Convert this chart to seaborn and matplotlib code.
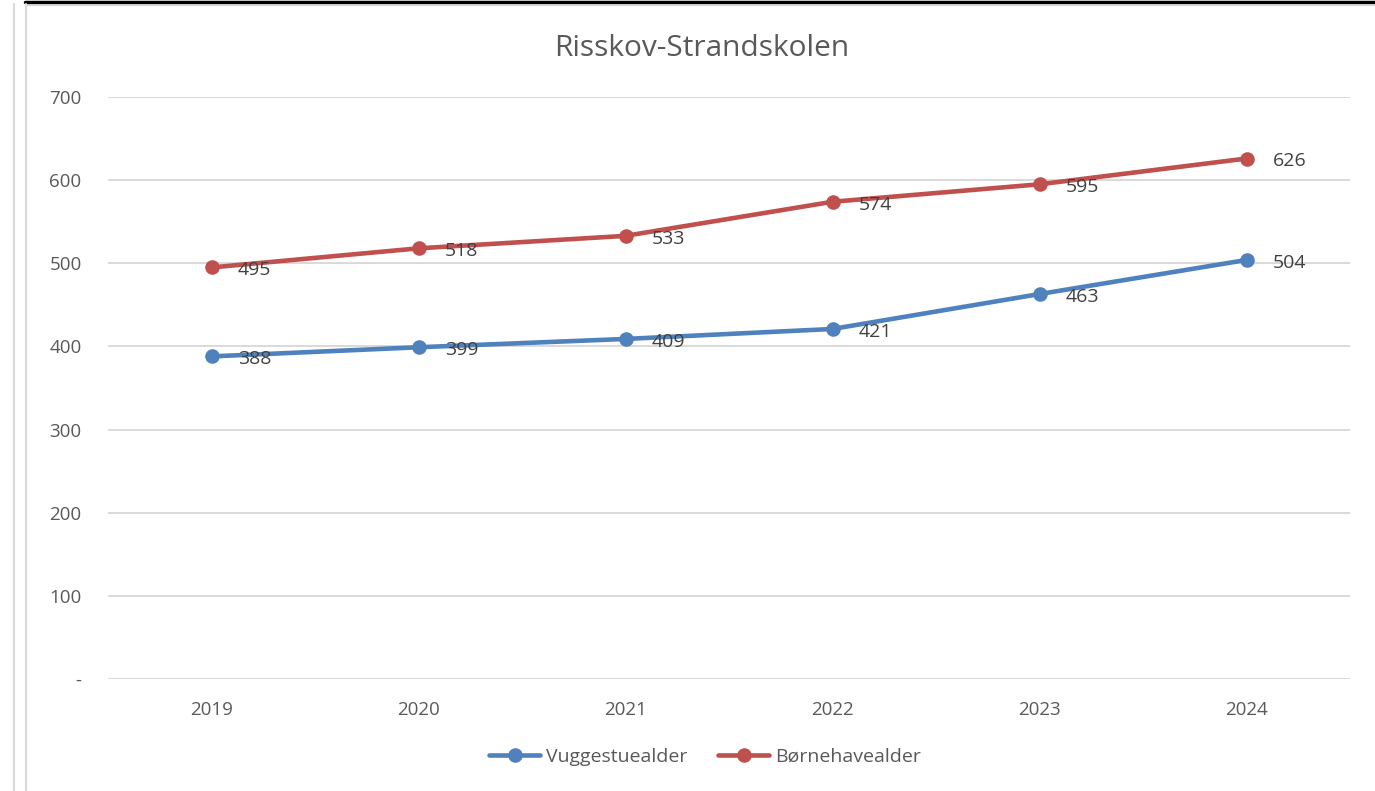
import matplotlib
matplotlib.use("Agg")
import matplotlib.pyplot as plt
from matplotlib.lines import Line2D
import pandas as pd
import seaborn as sns

# data
years = ["2019", "2020", "2021", "2022", "2023", "2024"]
vuggestue = [388, 399, 409, 421, 463, 504]
boernehave = [495, 518, 533, 574, 595, 626]
series_names = ["Vuggestuealder", "Børnehavealder"]
y_ticks = [0, 100, 200, 300, 400, 500, 600, 700]
y_tick_labels = ["-", "100", "200", "300", "400", "500", "600", "700"]

colors = {"Vuggestuealder": "#4F81BD", "Børnehavealder": "#C0504D"}
text_color = "#595959"

df = pd.DataFrame({
    "year": years * 2,
    "value": vuggestue + boernehave,
    "series": [series_names[0]] * len(years) + [series_names[1]] * len(years),
})

sns.set_theme(style="white")
plt.rcParams["font.family"] = ["Open Sans", "DejaVu Sans"]

fig = plt.figure(figsize=(13.75, 7.91), dpi=100)
ax = fig.add_axes([108 / 1375, 1 - 679 / 791, 1242 / 1375, 582 / 791])

sns.lineplot(data=df, x="year", y="value", hue="series", palette=colors,
             marker="o", markersize=10.5, markeredgewidth=0, linewidth=3.3,
             legend=False, ax=ax, sort=False)

for name, vals in zip(series_names, [vuggestue, boernehave]):
    for i, v in enumerate(vals):
        ax.annotate(str(v), (i, v), xytext=(19, -2), textcoords="offset points",
                    ha="left", va="center", fontsize=14, color="#404040")

ax.set_xlim(-0.5, len(years) - 0.5)
ax.set_ylim(0, 700)
ax.set_yticks(y_ticks)
ax.set_yticklabels(y_tick_labels)
ax.grid(axis="y", color="#D9D9D9", linewidth=1.4)
ax.set_axisbelow(True)
for s in ax.spines.values():
    s.set_visible(False)
ax.tick_params(axis="both", length=0, labelsize=13.5, colors=text_color)
ax.tick_params(axis="y", pad=19)
ax.tick_params(axis="x", pad=16)
ax.set_xlabel("")
ax.set_ylabel("")

fig.text(702 / 1375, 1 - 49 / 791, "Risskov-Strandskolen", ha="center", va="center",
         fontsize=21.5, color=text_color)

handles = [Line2D([0], [0], color=colors[n], marker="o", markersize=10.5,
                  markeredgewidth=0, linewidth=3.3) for n in series_names]
fig.legend(handles, series_names, loc="center", bbox_to_anchor=(705 / 1375, 1 - 757 / 791),
           ncol=2, frameon=False, fontsize=14, labelcolor=text_color,
           handlelength=2.6, handletextpad=0.3, columnspacing=1.6)

# screenshot frame lines
fig.add_artist(Line2D([25 / 1375, 1], [1 - 1.5 / 791] * 2, color="black", linewidth=2.5))
fig.add_artist(Line2D([25 / 1375, 1], [1 - 5 / 791] * 2, color="#D9D9D9", linewidth=1))
fig.add_artist(Line2D([13.5 / 1375] * 2, [0, 1 - 4 / 791], color="#D9D9D9", linewidth=1.5))
fig.add_artist(Line2D([26.5 / 1375] * 2, [0, 1 - 4 / 791], color="#D9D9D9", linewidth=1.5))

fig.savefig("out.png", dpi=100)
